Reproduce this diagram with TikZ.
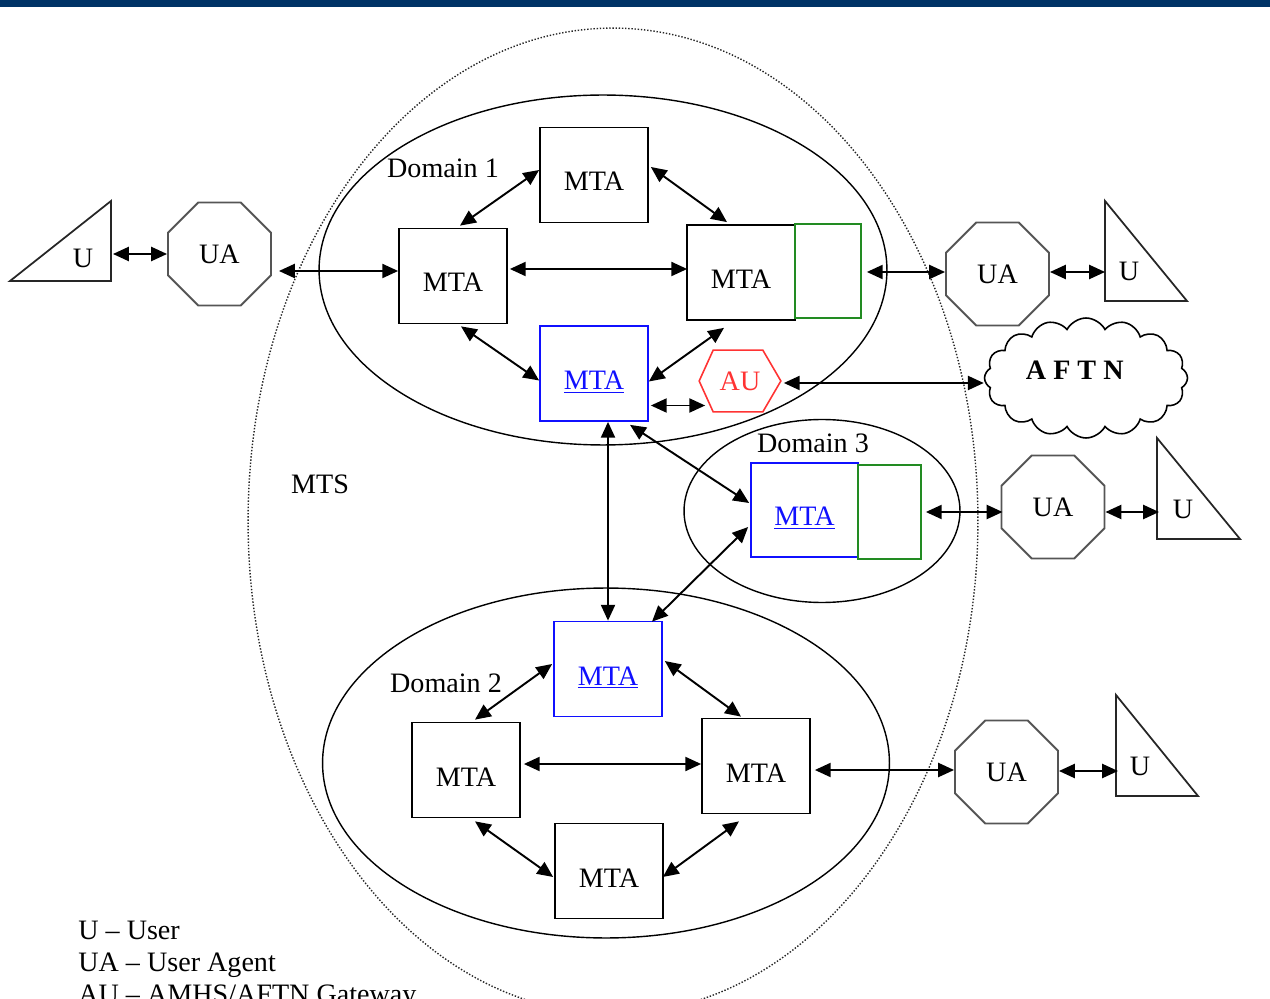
\documentclass[tikz,border=0pt]{standalone}
\usepackage{fontspec}
\setmainfont{Liberation Serif}
\usetikzlibrary{arrows.meta,calc,shapes.geometric,shapes.symbols}
\definecolor{navy}{HTML}{003366}
\definecolor{mtablue}{HTML}{1010FF}
\definecolor{gwgreen}{HTML}{228B22}
\definecolor{aured}{HTML}{FF3333}
\definecolor{uagray}{HTML}{555555}
\begin{document}
\begin{tikzpicture}[x=0.02cm,y=-0.02cm,
  every node/.style={font=\fontsize{16}{19}\selectfont},
  mta/.style={draw, line width=1pt, minimum width=2.16cm, minimum height=1.9cm, inner sep=0pt,
              text height=0.64cm, text depth=0pt},
  bluemta/.style={mta, draw=mtablue, text=mtablue},
  gwbox/.style={draw=gwgreen, line width=1pt, minimum height=1.88cm, inner sep=0pt},
  uanode/.style={regular polygon, regular polygon sides=8, draw=uagray, line width=1.1pt,
                 minimum size=2.23cm, inner sep=0pt},
  userbox/.style={inner sep=0pt, outer sep=0pt},
  usertri/.style={line width=1pt, black!85},
  domainell/.style={ellipse, draw, line width=0.8pt, inner sep=0pt},
  conn/.style={>={Triangle[length=9pt,width=8pt]}, <->, line width=1.1pt},
]
\useasboundingbox (0,0) rectangle (1270,999);
\clip (0,0) rectangle (1270,999);

% header stripe
\fill[navy] (0,0) rectangle (1270,7);

% message transfer system and its domains
\node[ellipse, draw=black!85, densely dotted, line width=0.8pt, minimum width=14.6cm, minimum height=19.72cm] (mts) at (613,521) {};
\node[domainell, minimum width=11.36cm, minimum height=7cm] (d1) at (603,270) {};
\node[domainell, minimum width=11.34cm, minimum height=7cm] (d2) at (606,763) {};
\node[domainell, minimum width=5.52cm, minimum height=3.66cm] (d3) at (822,511) {};

\node (d1lab) at (443,168) {Domain 1};
\node (d2lab) at (446,683) {Domain 2};
\node (d3lab) at (813,443) {Domain 3};
\node (mtslab) at (320,484) {MTS};

% Domain 1
\node[mta] (mt) at (594,175) {MTA};
\node[mta] (ml) at (453,276) {MTA};
\node[mta] (mr) at (741,272.5) {MTA};
\node[gwbox, minimum width=1.32cm] (g1) at (828,271) {};
\node[bluemta] (mb) at (594,373.5) {\underline{MTA}};
\node[minimum width=1.62cm, minimum height=1.22cm, inner sep=0pt, text=aured] (au) at (740,381) {AU};
\draw[aured, line width=0.9pt] (au.west) -- ($(au.north west)+(14,0)$) -- ($(au.north east)+(-18,0)$)
  -- (au.east) -- ($(au.south east)+(-18,0)$) -- ($(au.south west)+(14,0)$) -- cycle;

% Domain 3
\node[bluemta, minimum width=2.14cm, minimum height=1.88cm] (m3) at (804.5,510) {\underline{MTA}};
\node[gwbox, minimum width=1.26cm] (g3) at (889.5,512) {};

% Domain 2
\node[bluemta] (m2b) at (608,669) {\underline{MTA}};
\node[mta] (m2l) at (466,770) {MTA};
\node[mta] (m2r) at (756,766) {MTA};
\node[mta] (m2d) at (609,871) {MTA};

% user agents
\node[uanode] (ua1) at (219.5,254) {UA};
\node[uanode] (ua2) at (997.5,274) {UA};
\node[uanode] (ua3) at (1053,507) {UA};
\node[uanode] (ua4) at (1006.5,772) {UA};

% users
\node[userbox, minimum width=2.02cm, minimum height=1.6cm] (u1) at (60.5,241) {};
\draw[usertri] (u1.south west) -- (u1.north east) -- (u1.south east) -- cycle;
\node (u1t) at (83,258) {U};
\node[userbox, minimum width=1.64cm, minimum height=2cm] (u2) at (1146,251) {};
\draw[usertri] (u2.north west) -- (u2.south west) -- (u2.south east) -- cycle;
\node (u2t) at (1129,271) {U};
\node[userbox, minimum width=1.66cm, minimum height=2.02cm] (u3) at (1198.5,488.5) {};
\draw[usertri] (u3.north west) -- (u3.south west) -- (u3.south east) -- cycle;
\node (u3t) at (1183,509) {U};
\node[userbox, minimum width=1.64cm, minimum height=2.02cm] (u4) at (1157,745.5) {};
\draw[usertri] (u4.north west) -- (u4.south west) -- (u4.south east) -- cycle;
\node (u4t) at (1140,766) {U};

% AFTN network
\node[cloud, draw, line width=0.9pt, cloud puffs=16, cloud puff arc=125, cloud ignores aspect,
      minimum width=4.06cm, minimum height=2.4cm, inner sep=0pt] (aftn) at (1086,378)
      {\hspace*{-0.45cm}\raisebox{0.3cm}{\textbf{A F T N}}};

% connections inside Domain 1
\draw[conn] ($(mt.west)+(0,-5)$) -- ($(ml.north)+(7,-2)$);
\draw[conn] ($(mt.east)+(2,-8)$) -- ($(mr.north)+(-14,-2)$);
\draw[conn] ($(ml.east)+(2,-7)$) coordinate (c1) -- ($(c1 -| mr.west)+(1,0)$);
\draw[conn] ($(ml.south)+(8,2)$) -- ($(mb.west)+(0,7)$);
\draw[conn] ($(mr.south)+(-17,7)$) -- ($(mb.east)+(0,8)$);
\draw[conn] ($(mb.east)+(2,32)$) coordinate (c2) -- ($(c2 -| au.west)+(6,0)$);

% connections between domains
\draw[conn] (m2b.north) -- (m2b.north |- mb.south);
\draw[conn] ($(mb.south)+(36,3)$) -- ($(m3.west)+(-1,-7)$);
\draw[conn] ($(m2b.north)+(44,1)$) -- ($(m3.west)+(-2,17)$);

% connections inside Domain 2
\draw[conn] ($(m2b.west)+(-1,-5)$) -- ($(m2l.north)+(9,-2)$);
\draw[conn] ($(m2b.east)+(2,-8)$) -- ($(m2r.north)+(-15,-1)$);
\draw[conn] ($(m2l.east)+(3,-6)$) coordinate (c3) -- (c3 -| m2r.west);
\draw[conn] ($(m2l.south)+(9,3)$) -- ($(m2d.west)+(-1,6)$);
\draw[conn] ($(m2r.south)+(-17,7)$) -- ($(m2d.east)+(-1,6)$);

% connections to user agents, users and AFTN
\draw[conn] (ua1.west) -- ($(ua1.west -| u1.east)+(2,0)$);
\draw[conn] ($(ml.west)+(0,-5)$) coordinate (c4) -- ($(c4 -| ua1.east)+(7,0)$);
\draw[conn] ($(ua2.west)+(0,-2)$) coordinate (c5) -- ($(c5 -| g1.east)+(5,0)$);
\draw[conn] ($(ua2.east)+(0,-2)$) coordinate (c6) -- (c6 -| u2.west);
\draw[conn] ($(au.east)+(3,2)$) coordinate (c7) -- (c7 -| aftn.west);
\draw[conn] ($(g3.east)+(4,0)$) coordinate (c8) -- ($(c8 -| ua3.west)+(2,0)$);
\draw[conn] ($(ua3.east)+(0,5)$) coordinate (c9) -- ($(c9 -| u3.west)+(2,0)$);
\draw[conn] ($(m2r.east)+(4,4)$) coordinate (c10) -- (c10 -| ua4.west);
\draw[conn] ($(ua4.east)+(0,-1)$) coordinate (c11) -- ($(c11 -| u4.west)+(2,0)$);

% legend
\node[anchor=base west, inner sep=0pt] (leg1) at (78,939) {U -- User};
\node[anchor=base west, inner sep=0pt] (leg2) at (78,971) {UA -- User Agent};
\node[anchor=base west, inner sep=0pt] (leg3) at (78,1003) {AU -- AMHS/AFTN Gateway};
\end{tikzpicture}
\end{document}
